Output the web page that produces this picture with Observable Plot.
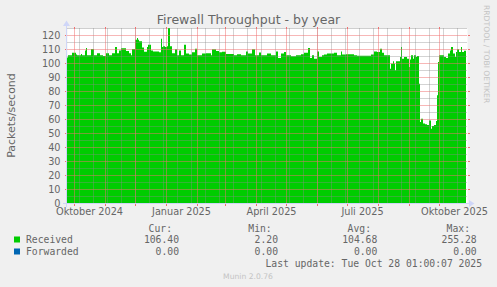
<!DOCTYPE html>
<html><head><meta charset="utf-8">
<script src="https://cdn.jsdelivr.net/npm/d3@7"></script>
<script src="https://cdn.jsdelivr.net/npm/@observablehq/plot@0.6"></script>
<style>html,body{margin:0;padding:0;background:#F0F0F0;overflow:hidden;}</style>
</head><body><div id="chart"></div>
<script>
// ---- data ----
const title = "Firewall Throughput - by year";
const yLabel = "Packets/second";
const startDay = "2024-09-24";
const endDay = "2025-10-29";
// day offsets from startDay where the (daily) value changes, and the values
const dayOffsets = [0,1,5,9,10,14,15,18,19,20,24,27,30,33,36,39,42,45,48,50,52,54,59,62,64,65,68,70,71,72,75,77,80,81,84,86,92,94,95,96,98,100,101,103,105,108,110,112,114,117,119,122,125,128,130,135,139,144,145,149,152,155,159,167,170,174,179,181,185,188,192,194,200,204,209,211,214,217,219,224,229,234,237,241,243,245,247,250,252,255,257,260,267,270,274,275,279,287,290,304,307,310,313,315,317,323,324,326,327,328,329,333,334,335,337,340,342,343,344,346,347,349,350,352,353,354,356,358,360,362,364,365,367,369,370,371,372,377,379,381,383,384,386,388,389,390,392,394,395,397,399];
const received = [104,105.5,107.4,106,105.5,106.5,105.5,109,110.7,105.5,110,105.5,107,105.5,105,107,105.5,107,111.4,107,109,110.5,108.5,107,105.5,110,116.6,117.9,116.6,115.5,111,108,111.4,113,109,108.3,107.6,117.4,111.4,112,111.4,112,125,112,107,109.8,105.5,109,105.5,113,106.7,106,107.6,110.2,105.5,106.7,107,105.5,109.8,108.5,107.6,108,106.5,105.5,106.2,105.5,108.3,106.7,109.8,105.5,107.5,105.5,106.7,105.5,108.3,103.6,106.7,107.9,105.5,104.8,105.5,106.3,107.4,110.7,103.6,105.5,103.1,108.3,104.3,105.5,106,106.7,107.4,105.5,108.3,106,106.2,105.5,105.2,106,108.3,107.9,110.2,107.4,105.5,95.9,99.5,101.2,99.5,94.8,101.2,104.3,111.4,103.1,104.3,103.1,97.1,102.5,105.5,103.1,105.5,104.3,105,85.2,57.9,60.2,56.7,56.2,55.7,59,53.1,55,55.7,58.5,76.9,100.7,105.5,104.3,103.6,106.7,109,111.4,106.7,104.3,107.9,109.8,107.9,111.4,107.9,108.8,108.8];
const yTicks = [0,10,20,30,40,50,60,70,80,90,100,110,120];
const yMinor = [5,15,25,35,45,55,65,75,85,95,105,115,125];
const xLabelMonths = ["2024-10-01","2025-01-01","2025-04-01","2025-07-01","2025-10-01"];
const xTickLabels = ["Oktober 2024","Januar 2025","April 2025","Juli 2025","Oktober 2025"];
const seriesNames = ["Received","Forwarded"];
const seriesColors = ["#00CC00","#0066B3"];
const statHeaders = ["Cur:","Min:","Avg:","Max:"];
const statsReceived = ["106.40","2.20","104.68","255.28"];
const statsForwarded = ["0.00","0.00","0.00","0.00"];
const lastUpdate = "Last update: Tue Oct 28 01:00:07 2025";
const watermark = "RRDTOOL / TOBI OETIKER";
const version = "Munin 2.0.76";

// ---- build ----
const start = new Date(startDay + "T00:00:00Z");
const end = new Date(endDay + "T00:00:00Z");
const data = dayOffsets.map((d, i) => ({date: d3.utcDay.offset(start, d), value: received[i]}));
const monthStarts = d3.utcMonth.range(start, end);
const minorWeeks = d3.utcSunday.range(start, end).filter((d, i) => i % 2 === 1);
const labelDates = xLabelMonths.map(s => new Date(s + "T00:00:00Z"));
const labelMap = new Map(labelDates.map((d, i) => [+d, xTickLabels[i]]));

const minorStyle = {stroke: "#8c8c8c", strokeOpacity: 0.38};
const majorStyle = {stroke: "#f07070", strokeOpacity: 0.5};

const chart = Plot.plot({
  width: 497, height: 287,
  marginLeft: 67, marginRight: 30, marginTop: 28, marginBottom: 84,
  style: {background: "#F0F0F0", color: "#666666", fontFamily: "'DejaVu Sans', sans-serif", fontSize: "9.72px", overflow: "visible"},
  x: {type: "utc", domain: [start, end]},
  y: {domain: [0, 125]},
  marks: [
    Plot.frame({fill: "#FFFFFF", stroke: null}),
    Plot.areaY(data, {x: "date", y: "value", curve: "step-after", fill: "#00CC00"}),
    Plot.ruleY(yMinor, {x1: start, x2: end, ...minorStyle}),
    Plot.gridX({ticks: minorWeeks, ...minorStyle}),
    Plot.ruleY(yTicks, {x1: start, x2: end, ...majorStyle}),
    Plot.gridX({ticks: monthStarts, ...majorStyle}),
    Plot.axisY({ticks: yTicks, tickSize: 2, tickPadding: 5, stroke: "#f07070", label: null}),
    Plot.axisY({ticks: yTicks, anchor: "right", tickSize: 2, tickFormat: () => "", stroke: "#f07070", label: null}),
    Plot.axisX({ticks: monthStarts, tickSize: 3, tickFormat: () => "", stroke: "#f07070", label: null}),
    Plot.axisX({ticks: monthStarts, anchor: "top", tickSize: 2, tickFormat: () => "", stroke: "#f07070", label: null}),
    Plot.axisX({ticks: labelDates, tickSize: 0, tickPadding: 5, dx: 15, tickFormat: d => labelMap.get(+d), label: null})
  ]
});
document.getElementById("chart").append(chart);

const svg = d3.select(chart);
const xs = chart.scale("x"), ys = chart.scale("y");
const x0 = xs.apply(start), x1 = xs.apply(end);
const y0 = ys.apply(0), y1 = ys.apply(125);
const axisColor = "#CFD6F8";
// axes with arrows
svg.append("line").attr("x1", x0 - 4).attr("x2", x1 + 3).attr("y1", y0 + 0.5).attr("y2", y0 + 0.5).attr("stroke", axisColor);
svg.append("line").attr("x1", x0 - 0.5).attr("x2", x0 - 0.5).attr("y1", y0 + 4).attr("y2", y1 - 3).attr("stroke", axisColor);
svg.append("path").attr("d", `M${x1 + 2},${y0 - 3}L${x1 + 2},${y0 + 4}L${x1 + 7.5},${y0 + 0.5}Z`).attr("fill", axisColor);
svg.append("path").attr("d", `M${x0 - 4},${y1 - 2}L${x0 + 3},${y1 - 2}L${x0 - 0.5},${y1 - 7.5}Z`).attr("fill", axisColor);

// title, axis label, watermarks
svg.append("text").attr("x", 248.5).attr("y", 23.5).attr("text-anchor", "middle")
  .attr("font-size", 12.5).attr("fill", "#666666").text(title);
svg.append("text").attr("transform", `translate(15,${(y0 + y1) / 2}) rotate(-90)`).attr("text-anchor", "middle")
  .attr("font-size", 11).attr("fill", "#666666").text(yLabel);
svg.append("text").attr("transform", "translate(484,5) rotate(90)").attr("text-anchor", "start")
  .attr("font-size", 7.64).attr("fill", "#c4c4c4").text(watermark);
svg.append("text").attr("x", 248).attr("y", 279).attr("text-anchor", "middle")
  .attr("font-size", 7.64).attr("fill", "#c4c4c4").text(version);

// legend
const lg = svg.append("g").attr("font-family", "'DejaVu Sans Mono', monospace").attr("font-size", 9.72)
  .attr("fill", "#666666").attr("text-anchor", "start");
const headerRight = [172, 271.7, 371, 470];
const valueRight = [179, 278, 377.3, 476.7];
statHeaders.forEach((h, i) => lg.append("text").attr("x", headerRight[i]).attr("y", 232).attr("text-anchor", "end").text(h));
[statsReceived, statsForwarded].forEach((row, r) => {
  const by = 243 + r * 12;
  lg.append("rect").attr("x", 14).attr("y", by - 6.5).attr("width", 6).attr("height", 6).attr("fill", seriesColors[r]);
  lg.append("text").attr("x", 26).attr("y", by).attr("text-anchor", "start").text(seriesNames[r]);
  row.forEach((v, i) => lg.append("text").attr("x", valueRight[i]).attr("y", by).attr("text-anchor", "end").text(v));
});
lg.append("text").attr("x", 482).attr("y", 267).attr("text-anchor", "end").text(lastUpdate);
</script>
</body></html>
